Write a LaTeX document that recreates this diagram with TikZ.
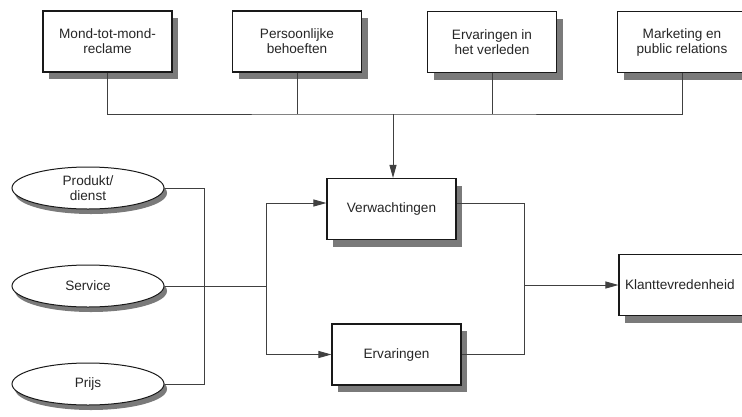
\documentclass[tikz,border=0pt]{standalone}
\usepackage{fontspec}
\setmainfont{Liberation Sans}
\usetikzlibrary{shadows,arrows.meta,shapes.geometric}
\begin{document}
\begin{tikzpicture}[x=1pt,y=-1pt,
  every node/.style={font=\fontsize{13.6}{15}\selectfont, text=black!85},
  box/.style={draw=black!90, line width=1.1pt, fill=white, align=center,
    minimum width=129pt, minimum height=61pt,
    drop shadow={shadow xshift=6pt, shadow yshift=-7pt, fill=black!52, opacity=1}},
  oval/.style={draw=black!90, line width=1pt, fill=white, ellipse, align=center,
    minimum width=152pt, minimum height=42pt, inner sep=0pt,
    drop shadow={shadow xshift=3pt, shadow yshift=-5pt, fill=black!52, opacity=1}},
  link/.style={draw=black!75, line width=0.9pt},
  arr/.style={link, -{Triangle[length=13pt,width=7pt]}}]
\useasboundingbox (0,0) rectangle (742,416);
\fill[white] (0,0) rectangle (742,416);

% top row of influences
\node[box] (m1) at (107.5,41.5) {Mond-tot-mond-\\reclame};
\node[box] (m2) at (297,41.5) {Persoonlijke\\behoeften};
\node[box] (m3) at (492,42) {Ervaringen in\\het verleden};
\node[box] (m4) at (682,42) {Marketing en\\public relations};

% central boxes
\node[box] (verw) at (391.5,209) {Verwachtingen};
\node[box] (erv) at (396.5,354.5) {Ervaringen};
\node[box, minimum width=141pt, text width=129pt, align=left, inner sep=6pt] (klant) at (689.5,285) {Klanttevredenheid};

% ovals on the left
\node[oval] (prod) at (88,188) {Produkt/\\dienst};
\node[oval] (serv) at (88,286) {Service};
\node[oval] (prijs) at (88,384) {Prijs};

% junction points
\coordinate (bus) at (393,114);
\coordinate (lj) at (204,286);
\coordinate (fork) at (266,286);
\coordinate (rj) at (524,285);

% collector line under the top row
\draw[link] (m1.south) |- (bus) -| (m4.south);
\draw[link] (m2.south) -- (m2.south |- bus);
\draw[link] (m3.south) -- (m3.south |- bus);
\draw[arr] (bus) -- (bus |- verw.north);

% left side
\draw[link] (prod.east) -| (lj |- prijs.east) -- (prijs.east);
\draw[link] (serv.east) -- (fork);
\draw[arr] (fork) |- ([yshift=6pt]verw.west);
\draw[arr] (fork) |- (erv.west);

% right side
\draw[link] ([yshift=6pt]verw.east) -| (rj |- erv.east) -- (erv.east);
\draw[arr] (rj) -- (klant.west);
\end{tikzpicture}
\end{document}
